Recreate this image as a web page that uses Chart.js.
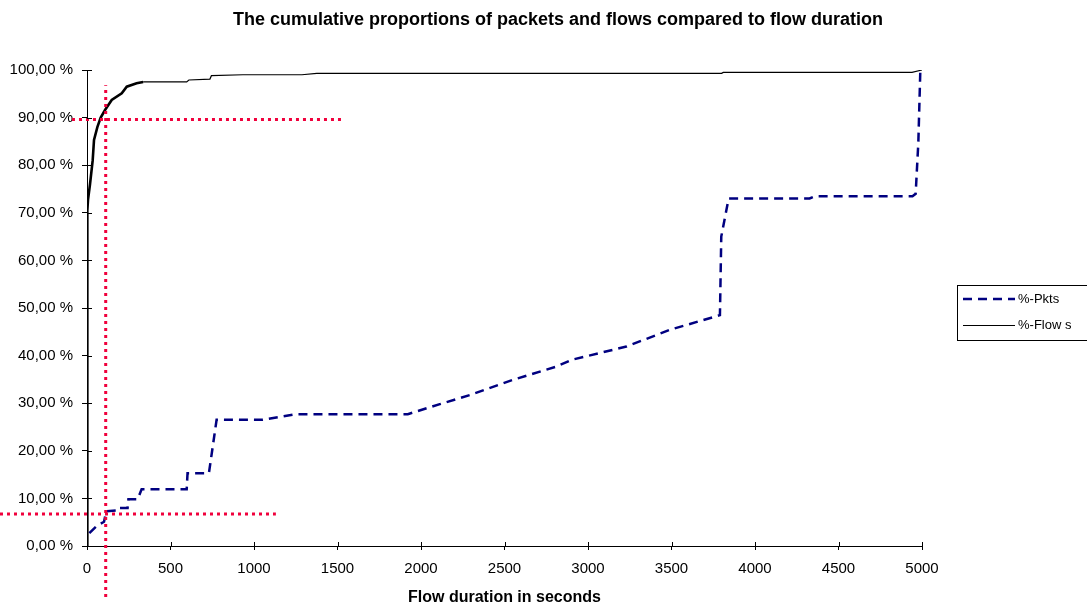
<!DOCTYPE html>
<html>
<head>
<meta charset="utf-8">
<title>Cumulative proportions of packets and flows</title>
<script src="https://cdn.jsdelivr.net/npm/chart.js@4.4.1/dist/chart.umd.min.js"></script>
<style>
  html, body { margin: 0; padding: 0; background: #fff; }
  #wrap { width: 1087px; height: 603px; position: relative; }
</style>
</head>
<body>
<div id="wrap"><canvas id="chart" width="1087" height="603"></canvas></div>
<script>
// Flow duration (seconds) and cumulative share of packets (%)
const pktsSeconds = [14, 58, 102, 110, 115, 178, 183, 243, 248, 303, 327, 597, 602, 730, 776, 1053, 1255, 1921, 2113, 2292, 2550, 2811, 2901, 3230, 3489, 3790, 3798, 3842, 4327, 4360, 4943, 4962, 4978, 4990];
const pktsPercent = [2.7, 4.2, 5.1, 6.4, 7.3, 7.5, 8.0, 8.0, 9.8, 9.8, 11.9, 11.9, 15.3, 15.3, 26.5, 26.5, 27.7, 27.7, 29.8, 31.7, 34.9, 37.7, 39.1, 41.9, 45.4, 48.5, 65.0, 73.0, 73.0, 73.5, 73.5, 74.0, 84.7, 100];

// Flow duration (seconds) and cumulative share of flows (%)
const flowsSeconds = [0, 1, 2, 3, 6, 18, 34, 42, 62, 82, 108, 148, 208, 238, 297, 336, 597, 610, 736, 745, 934, 1287, 1376, 3800, 3810, 4940, 5000];
const flowsPercent = [0, 30, 60, 70.5, 72.7, 76, 81, 85.3, 88, 90, 91.6, 93.7, 95.1, 96.5, 97.2, 97.5, 97.5, 97.9, 98.1, 98.8, 99.0, 99.0, 99.3, 99.3, 99.5, 99.5, 100];

// Reference guides: 90 % of flows / ~7 % of packets at about 112 s
const guideSeconds = 112;
const guideSecondsSpan = [-10.7, 96.8];
const guideFlowsLevel = 89.6;
const guideFlowsSpan = [-90, 1539];
const guidePktsLevel = 6.7;
const guidePktsSpan = [-521, 1131];

// Axis ticks
const xTicks = [0, 500, 1000, 1500, 2000, 2500, 3000, 3500, 4000, 4500, 5000];
const yTicks = [0, 10, 20, 30, 40, 50, 60, 70, 80, 90, 100];

const seriesLabels = ['%-Pkts', '%-Flow s'];
const chartTitle = 'The cumulative proportions of packets and flows compared to flow duration';
const xAxisTitle = 'Flow duration in seconds';

const FONT = '"Liberation Sans", Arial, Helvetica, sans-serif';
const GUIDE_RED = '#f0003c';

const zip = (xs, ys) => xs.map((x, i) => ({ x, y: ys[i] }));

const guideStyle = {
  borderColor: GUIDE_RED,
  borderWidth: 3,
  borderDash: [3, 4],
  borderCapStyle: 'butt',
  pointRadius: 0,
  fill: false,
  clip: false,
  order: 0,
  isGuide: true
};

// Chart heading, centred a little right of the canvas middle
const heading = {
  id: 'heading',
  afterDraw(chart) {
    const { ctx } = chart;
    ctx.save();
    ctx.fillStyle = '#000';
    ctx.font = 'bold 18px ' + FONT;
    ctx.textAlign = 'center';
    ctx.textBaseline = 'middle';
    ctx.fillText(chartTitle, 558, 20);
    ctx.restore();
  }
};

// Small inner halves of the cross-style tick marks
const crossTicks = {
  id: 'crossTicks',
  afterDraw(chart) {
    const { ctx, chartArea, scales } = chart;
    ctx.save();
    ctx.strokeStyle = '#000';
    ctx.lineWidth = 1;
    ctx.beginPath();
    xTicks.forEach(v => {
      const px = Math.round(scales.x.getPixelForValue(v)) + 0.5;
      ctx.moveTo(px, chartArea.bottom);
      ctx.lineTo(px, chartArea.bottom - 4);
    });
    yTicks.forEach(v => {
      const py = Math.round(scales.y.getPixelForValue(v)) + 0.5;
      ctx.moveTo(chartArea.left, py);
      ctx.lineTo(chartArea.left + 5, py);
    });
    ctx.stroke();
    ctx.restore();
  }
};

// Boxed legend at the right edge
const boxedLegend = {
  id: 'boxedLegend',
  afterDraw(chart) {
    const { ctx } = chart;
    const left = 957, top = 285, bottom = 340;
    ctx.save();
    ctx.strokeStyle = '#000';
    ctx.lineWidth = 1;
    ctx.strokeRect(left + 0.5, top + 0.5, 200, bottom - top);
    const rows = chart.data.datasets.filter(d => !d.isGuide);
    rows.forEach((ds, i) => {
      const y = 299 + i * 26;
      const ly = ds.legendLineWidth === 1 ? y + 0.5 : y;
      ctx.beginPath();
      ctx.strokeStyle = ds.borderColor;
      ctx.lineWidth = ds.legendLineWidth;
      ctx.setLineDash(ds.borderDash || []);
      ctx.moveTo(963, ly);
      ctx.lineTo(1015, ly);
      ctx.stroke();
      ctx.setLineDash([]);
      ctx.fillStyle = '#000';
      ctx.font = '13px ' + FONT;
      ctx.textBaseline = 'middle';
      ctx.textAlign = 'left';
      ctx.fillText(ds.label, 1018, y);
    });
    ctx.restore();
  }
};

const fmtPct = v => v.toFixed(2).replace('.', ',') + ' %';

new Chart(document.getElementById('chart'), {
  type: 'line',
  data: {
    datasets: [
      Object.assign({ label: 'guide-x', data: zip([guideSeconds, guideSeconds], guideSecondsSpan) }, guideStyle),
      Object.assign({ label: 'guide-flows', data: zip(guideFlowsSpan, [guideFlowsLevel, guideFlowsLevel]) }, guideStyle),
      Object.assign({ label: 'guide-pkts', data: zip(guidePktsSpan, [guidePktsLevel, guidePktsLevel]) }, guideStyle),
      {
        label: seriesLabels[0],
        data: zip(pktsSeconds, pktsPercent),
        borderColor: '#000080',
        borderWidth: 2.5,
        legendLineWidth: 2.5,
        borderDash: [9, 6],
        pointRadius: 0,
        fill: false,
        tension: 0,
        order: 2
      },
      {
        label: seriesLabels[1],
        data: zip(flowsSeconds, flowsPercent),
        borderColor: '#000000',
        borderWidth: 1.2,
        legendLineWidth: 1,
        pointRadius: 0,
        fill: false,
        tension: 0,
        order: 1,
        segment: {
          borderWidth: c => (c.p1.parsed.x <= 340 ? 2.6 : 1.2)
        }
      }
    ]
  },
  options: {
    responsive: false,
    animation: false,
    layout: { padding: { left: 0, right: 165, top: 70, bottom: 0 } },
    plugins: {
      legend: { display: false },
      tooltip: { enabled: false },
      title: { display: false }
    },
    scales: {
      x: {
        type: 'linear',
        min: 0,
        max: 5000,
        afterBuildTicks: s => { s.ticks = xTicks.map(v => ({ value: v })); },
        afterFit: s => { s.height = 57; },
        ticks: {
          color: '#000',
          font: { family: FONT, size: 15 },
          padding: 10,
          maxRotation: 0,
          autoSkip: false,
          callback: v => String(v)
        },
        grid: { drawOnChartArea: false, tickLength: 4, color: '#000' },
        border: { color: '#000', width: 1 },
        title: {
          display: true,
          text: xAxisTitle,
          color: '#000',
          font: { family: FONT, size: 16, weight: 'bold', lineHeight: 1 },
          padding: { top: 0, bottom: -3 }
        }
      },
      y: {
        type: 'linear',
        min: 0,
        max: 100,
        afterBuildTicks: s => { s.ticks = yTicks.map(v => ({ value: v })); },
        afterFit: s => { s.width = 87; },
        ticks: {
          color: '#000',
          font: { family: FONT, size: 15 },
          padding: 9,
          callback: fmtPct
        },
        grid: { drawOnChartArea: false, tickLength: 5, color: '#000' },
        border: { color: '#000', width: 1 }
      }
    }
  },
  plugins: [heading, crossTicks, boxedLegend]
});
</script>
</body>
</html>
